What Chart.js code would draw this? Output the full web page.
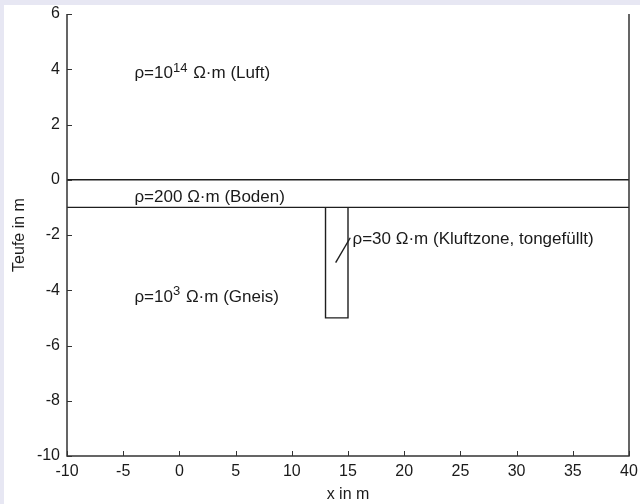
<!DOCTYPE html>
<html>
<head>
<meta charset="utf-8">
<script src="https://cdn.jsdelivr.net/npm/chart.js@4/dist/chart.umd.min.js"></script>
<style>
  html, body { margin: 0; padding: 0; background: #e7e7f3; }
  #wrap { position: absolute; left: 4px; top: 5px; width: 636px; height: 499px; background: #ffffff; }
  canvas { display: block; }
</style>
</head>
<body>
<div id="wrap"><canvas id="modell" width="636" height="499"></canvas></div>
<script>
// Achsenteilung
var xTicks = [-10, -5, 0, 5, 10, 15, 20, 25, 30, 35, 40];
var yTicks = [-10, -8, -6, -4, -2, 0, 2, 4, 6];

// Schichtgrenzen (Geländeoberfläche und Basis Boden)
var grenzeX = [-10, 40];
var oberflaecheY = [0, 0];
var bodenBasisY = [-1, -1];

// Kluftzone als Rechteck
var kluftX = [13, 13, 15, 15];
var kluftY = [-1, -5, -5, -1];

// Hinweislinie zur Beschriftung der Kluftzone
var hinweisX = [13.9, 15.2];
var hinweisY = [-3.0, -2.1];

// Beschriftungen: Position (links, vertikale Mitte) und Textteile (sup = hochgestellt)
var textX = [-4, -4, -4, 15.4];
var textY = [3.86, -0.62, -4.24, -2.15];
var textTeile = [
    [{ t: '\u03C1=10' }, { t: '14', sup: true }, { t: ' \u03A9\u00B7m (Luft)' }],
    [{ t: '\u03C1=200 \u03A9\u00B7m (Boden)' }],
    [{ t: '\u03C1=10' }, { t: '3', sup: true }, { t: ' \u03A9\u00B7m (Gneis)' }],
    [{ t: '\u03C1=30 \u03A9\u00B7m (Kluftzone, tongef\u00FCllt)' }]
];

var FONT = "'Liberation Sans', Arial, sans-serif";
var TEXTFARBE = '#1a1a1a';
var LINIENFARBE = '#1e1e1e';

function punkte(xs, ys) {
    return xs.map(function (v, i) { return { x: v, y: ys[i] }; });
}

function linie(xs, ys) {
    return {
        data: punkte(xs, ys),
        showLine: true,
        borderColor: LINIENFARBE,
        borderWidth: 1.4,
        pointRadius: 0,
        fill: false,
        tension: 0
    };
}

// Achsenrahmen (links, unten, rechts) mit nach innen zeigenden Ticks
var rahmen = {
    id: 'rahmen',
    afterDatasetsDraw: function (chart) {
        var ctx = chart.ctx, a = chart.chartArea;
        var sx = chart.scales.x, sy = chart.scales.y;
        ctx.save();
        ctx.strokeStyle = '#333333';
        ctx.lineWidth = 1.5;
        ctx.beginPath();
        ctx.moveTo(a.left, a.top);
        ctx.lineTo(a.left, a.bottom);
        ctx.lineTo(a.right, a.bottom);
        ctx.lineTo(a.right, a.top);
        ctx.stroke();
        ctx.lineWidth = 1;
        ctx.beginPath();
        xTicks.forEach(function (v) {
            var px = Math.round(sx.getPixelForValue(v)) + 0.5;
            ctx.moveTo(px, a.bottom);
            ctx.lineTo(px, a.bottom - 5);
        });
        yTicks.forEach(function (v) {
            var py = Math.round(sy.getPixelForValue(v)) + 0.5;
            ctx.moveTo(a.left, py);
            ctx.lineTo(a.left + 5, py);
        });
        ctx.stroke();
        ctx.restore();
    }
};

// Widerstandsangaben der Schichten
var beschriftung = {
    id: 'beschriftung',
    afterDatasetsDraw: function (chart) {
        var ctx = chart.ctx;
        var sx = chart.scales.x, sy = chart.scales.y;
        ctx.save();
        ctx.fillStyle = TEXTFARBE;
        ctx.textBaseline = 'middle';
        ctx.textAlign = 'left';
        textTeile.forEach(function (teile, i) {
            var px = sx.getPixelForValue(textX[i]);
            var py = sy.getPixelForValue(textY[i]);
            teile.forEach(function (s) {
                ctx.font = (s.sup ? '13px ' : '17px ') + FONT;
                ctx.fillText(s.t, px, s.sup ? py - 5 : py);
                px += ctx.measureText(s.t).width + (s.sup ? 1 : 0);
            });
        });
        ctx.restore();
    }
};

new Chart(document.getElementById('modell'), {
    type: 'scatter',
    data: {
        datasets: [
            linie(grenzeX, oberflaecheY),
            linie(grenzeX, bodenBasisY),
            linie(kluftX, kluftY),
            linie(hinweisX, hinweisY)
        ]
    },
    options: {
        responsive: false,
        animation: false,
        layout: { padding: { left: 0, right: 11, top: 9, bottom: 0 } },
        plugins: { legend: { display: false }, tooltip: { enabled: false } },
        scales: {
            x: {
                type: 'linear',
                min: -10,
                max: 40,
                afterBuildTicks: function (s) { s.ticks = xTicks.map(function (v) { return { value: v }; }); },
                afterFit: function (s) { s.height = 48; s.paddingLeft = 0; s.paddingRight = 0; },
                grid: { display: false, drawTicks: false, tickLength: 0 },
                border: { display: false },
                ticks: { color: TEXTFARBE, font: { family: FONT, size: 16 }, padding: 6, maxRotation: 0, autoSkip: false },
                title: { display: true, text: 'x in m', color: TEXTFARBE, font: { family: FONT, size: 16 }, padding: 0 }
            },
            y: {
                type: 'linear',
                min: -10,
                max: 6,
                afterBuildTicks: function (s) { s.ticks = yTicks.map(function (v) { return { value: v }; }); },
                afterFit: function (s) { s.width = 63; s.paddingTop = 0; s.paddingBottom = 0; },
                grid: { display: false, drawTicks: false, tickLength: 0 },
                border: { display: false },
                ticks: { color: TEXTFARBE, font: { family: FONT, size: 16 }, padding: 7, autoSkip: false },
                title: { display: true, text: 'Teufe in m', color: TEXTFARBE, font: { family: FONT, size: 16 }, padding: { top: 6, bottom: 0 } }
            }
        }
    },
    plugins: [rahmen, beschriftung]
});
</script>
</body>
</html>
